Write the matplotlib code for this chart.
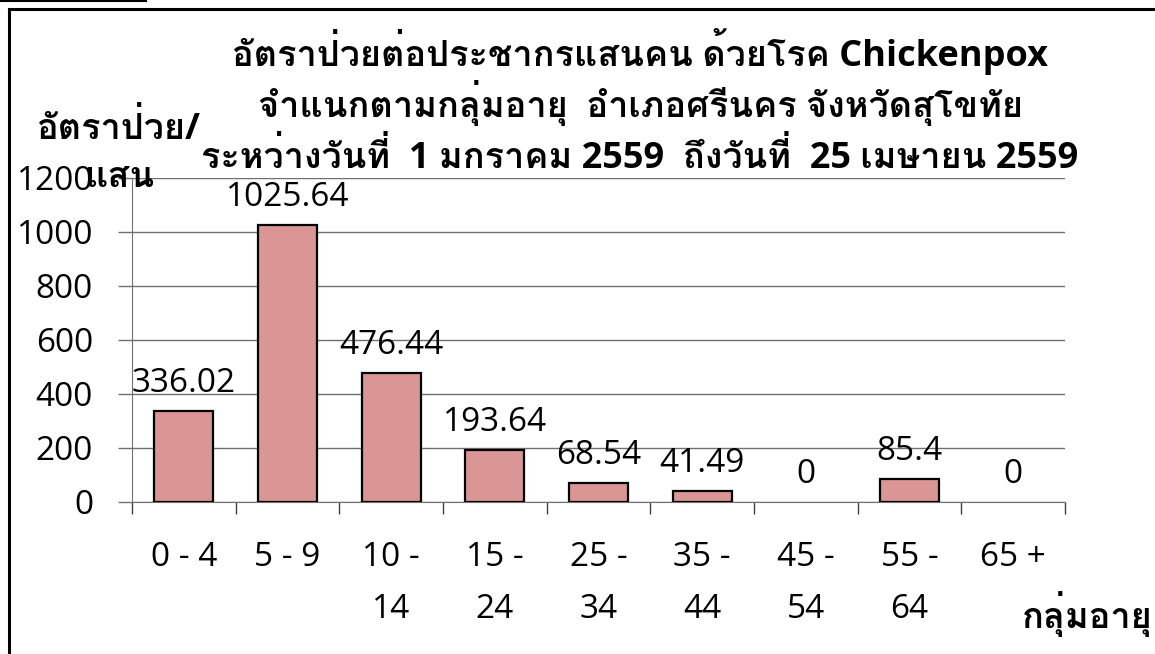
import matplotlib
matplotlib.use('Agg')
import matplotlib.pyplot as plt
from matplotlib import font_manager as fm
from matplotlib.ft2font import FT2Font
from matplotlib.lines import Line2D

# ---------------- data ----------------
categories = ['0 - 4', '5 - 9', '10 -\n14', '15 -\n24', '25 -\n34', '35 -\n44', '45 -\n54', '55 -\n64', '65 +']
values = [336.02, 1025.64, 476.44, 193.64, 68.54, 41.49, 0, 85.4, 0]
value_labels = ['336.02', '1025.64', '476.44', '193.64', '68.54', '41.49', '0', '85.4', '0']
yticks = [0, 200, 400, 600, 800, 1000, 1200]
title_lines = ['อัตราป่วยต่อประชากรแสนคน ด้วยโรค Chickenpox',
               'จำแนกตามกลุ่มอายุ  อำเภอศรีนคร จังหวัดสุโขทัย',
               'ระหว่างวันที่  1 มกราคม 2559  ถึงวันที่  25 เมษายน 2559']
ylabel_lines = ['อัตราป่วย/', 'แสน']
xlabel = 'กลุ่มอายุ'

# ---------------- fonts ----------------
def thai_families():
    good, other = [], []
    for f in fm.fontManager.ttflist:
        try:
            ft = FT2Font(f.fname)
            cm = ft.get_charmap()
        except Exception:
            continue
        if not (0x0E2D in cm and 0x0E31 in cm):
            continue
        ok = False
        try:
            ft.set_size(12, 72)
            g = ft.load_char(0x0E48)
            ok = g.horiAdvance == 0 and g.bbox[2] <= 0
        except Exception:
            ok = False
        target = good if ok else other
        if f.name not in good and f.name not in other:
            target.append(f.name)
    return good + other

thai = thai_families()
latin_fam = ['Open Sans', 'Noto Sans', 'DejaVu Sans']
fam = ['Open Sans'] + thai + ['Noto Sans', 'DejaVu Sans']
plt.rcParams['font.family'] = fam

W, H = 1155, 654
fig = plt.figure(figsize=(W / 100, H / 100), dpi=100)

def fx(x):
    return x / W

def fy(y):
    return 1 - y / H

ax = fig.add_axes([fx(132), fy(502), fx(1065) - fx(132), fy(178) - fy(502)])
x = list(range(len(categories)))
bars = ax.bar(x, values, width=0.57, color='#D99694', edgecolor='black', linewidth=1.6, zorder=3)
for b, v in zip(bars, values):
    if v == 0:
        b.set_visible(False)
ax.set_xlim(-0.5, len(categories) - 0.5)
ax.set_ylim(0, 1200)
ax.set_yticks(yticks)
ax.set_yticklabels([str(v) for v in yticks], fontsize=24, family=latin_fam)
ax.yaxis.grid(True, color='#707070', linewidth=1.0, zorder=0)
ax.tick_params(axis='y', length=10, width=1, color='#707070', pad=18)

ax.set_xticks([i + 0.5 for i in range(-1, len(categories))])
ax.set_xticklabels([])
ax.set_xticks(x, minor=True)
ax.set_xticklabels(categories, minor=True, fontsize=24, family=latin_fam, linespacing=1.75)
ax.tick_params(axis='x', which='major', length=8.5, width=1, color='#404040')
ax.tick_params(axis='x', which='minor', length=0, pad=28)

for s in ['top', 'right']:
    ax.spines[s].set_visible(False)
ax.spines['left'].set_color('#707070')
ax.spines['bottom'].set_color('#707070')
ax.spines['left'].set_bounds(0, 1200)

for xi, v, lab in zip(x, values, value_labels):
    ax.annotate(lab, (xi, v), xytext=(0, 8), textcoords='offset points',
                ha='center', va='bottom', fontsize=24, family=latin_fam, zorder=4)

# titles
for txt, yb in zip(title_lines, [66, 117, 168]):
    fig.text(fx(640), fy(yb), txt, ha='center', va='baseline', fontsize=26, weight='bold')

fig.text(fx(118), fy(139), ylabel_lines[0], ha='center', va='baseline', fontsize=26, weight='bold')
fig.text(fx(120), fy(187), ylabel_lines[1], ha='center', va='baseline', fontsize=26, weight='bold')
fig.text(fx(1022), fy(628), xlabel, ha='left', va='baseline', fontsize=26, weight='bold')

# outer frame
fig.add_artist(Line2D([fx(9), fx(1155)], [fy(9), fy(9)], color='black', linewidth=2.2))
fig.add_artist(Line2D([fx(9), fx(9)], [fy(9), fy(654)], color='black', linewidth=2.2))
fig.add_artist(Line2D([fx(0), fx(146)], [fy(1), fy(1)], color='black', linewidth=1.5))

fig.savefig('out.png', dpi=100)
